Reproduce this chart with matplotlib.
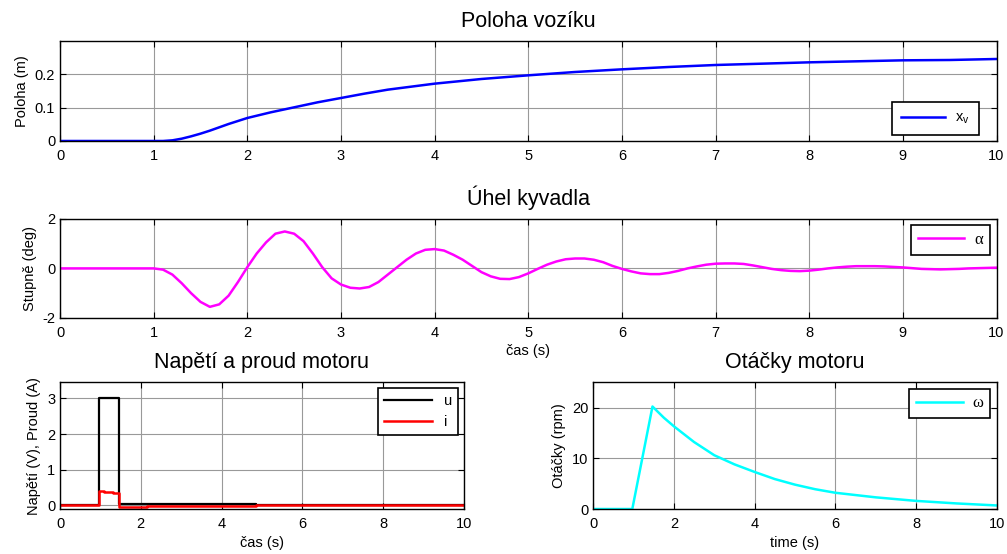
import numpy as np
import matplotlib.pyplot as plt

plt.rcParams['font.family'] = ['Liberation Sans', 'DejaVu Sans']
plt.rcParams['axes.unicode_minus'] = False

# poloha voziku (m)
t_x = [0, 1.0, 1.1, 1.2, 1.3, 1.4, 1.5, 1.6, 1.8, 2.0, 2.25, 2.5, 2.75, 3.0, 3.25, 3.5, 3.75,
       4.0, 4.5, 5.0, 5.5, 6.0, 6.5, 7.0, 7.5, 8.0, 8.5, 9.0, 9.5, 10.0]
x_v = [0, 0, 0.0, 0.002, 0.007, 0.014, 0.022, 0.031, 0.051, 0.069, 0.086, 0.101, 0.116, 0.129,
       0.142, 0.154, 0.163, 0.172, 0.186, 0.197, 0.207, 0.215, 0.222, 0.228, 0.232, 0.236,
       0.239, 0.242, 0.243, 0.246]

# uhel kyvadla (deg), krok 0.1 s od t = 1 s
t_a = [0, 1.0, 1.1, 1.2, 1.3, 1.4, 1.5, 1.6, 1.7, 1.8, 1.9, 2.0, 2.1, 2.2, 2.3, 2.4, 2.5, 2.6,
       2.7, 2.8, 2.9, 3.0, 3.1, 3.2, 3.3, 3.4, 3.5, 3.6, 3.7, 3.8, 3.9, 4.0, 4.1, 4.2, 4.3,
       4.4, 4.5, 4.6, 4.7, 4.8, 4.9, 5.0, 5.1, 5.2, 5.3, 5.4, 5.5, 5.6, 5.7, 5.8, 5.9, 6.0,
       6.1, 6.2, 6.3, 6.4, 6.5, 6.6, 6.7, 6.8, 6.9, 7.0, 7.1, 7.2, 7.3, 7.4, 7.5, 7.6, 7.7,
       7.8, 7.9, 8.0, 8.1, 8.2, 8.3, 8.4, 8.5, 8.6, 8.7, 8.8, 8.9, 9.0, 9.1, 9.2, 9.3, 9.4,
       9.5, 9.6, 9.7, 9.8, 9.9, 10.0]
alpha = [0, 0, -0.05, -0.25, -0.6, -1.0, -1.35, -1.55, -1.45, -1.1, -0.55, 0.05, 0.6, 1.05,
         1.4, 1.49, 1.4, 1.1, 0.6, 0.05, -0.4, -0.65, -0.78, -0.81, -0.75, -0.55, -0.25, 0.05,
         0.35, 0.6, 0.75, 0.78, 0.72, 0.55, 0.35, 0.1, -0.15, -0.32, -0.42, -0.43, -0.35, -0.2,
         -0.02, 0.15, 0.28, 0.37, 0.40, 0.40, 0.35, 0.25, 0.1, -0.02, -0.12, -0.2, -0.23,
         -0.23, -0.18, -0.1, 0.0, 0.08, 0.15, 0.19, 0.2, 0.2, 0.18, 0.12, 0.05, -0.02, -0.07,
         -0.1, -0.11, -0.09, -0.05, 0.0, 0.04, 0.07, 0.09, 0.09, 0.09, 0.08, 0.06, 0.04, 0.01,
         -0.02, -0.03, -0.04, -0.03, -0.02, 0.0, 0.01, 0.02, 0.03]

# napeti a proud (schody)
t_u = [0, 0.97, 1.47, 4.85, 10]
u = [0, 3, 0.02, 0, 0]
t_i = [0, 0.97, 1.1, 1.3, 1.47, 2.15, 4.85, 10]
i_m = [0, 0.40, 0.38, 0.35, -0.06, -0.03, 0, 0]

# otacky motoru (rpm)
t_w = [0, 0.97, 1.47, 1.75, 2.0, 2.5, 3.0, 3.5, 4.0, 4.5, 5.0, 5.5, 6.0, 7.0, 8.0, 9.0, 10.0]
omega = [0, 0, 20.2, 18.0, 16.3, 13.2, 10.6, 8.8, 7.3, 5.9, 4.8, 3.9, 3.2, 2.3, 1.6, 1.1, 0.7]


def style(ax, xt, yt, xl, yl):
    ax.set_xlim(xl)
    ax.set_ylim(yl)
    ax.set_xticks(xt)
    ax.set_yticks(yt)
    ax.grid(True, color='#999999', lw=0.8)
    ax.tick_params(direction='in', top=True, right=True, labelsize=10.5, length=4)
    ax.tick_params(axis='x', pad=6)
    for s in ax.spines.values():
        s.set_linewidth(1.0)


def leg(ax, loc, greek=False, hl=3.3, **kw):
    prop = {'size': 10.5}
    if greek:
        prop = {'size': 12, 'family': 'Liberation Serif'}
    lg = ax.legend(loc=loc, fancybox=False, framealpha=1, edgecolor='black',
                   prop=prop, handlelength=hl, borderaxespad=0.4, **kw)
    lg.get_frame().set_linewidth(1.2)


fig = plt.figure(figsize=(10.07, 5.54), dpi=100)

ax1 = fig.add_axes([0.0596, 0.7455, 0.930, 0.1805])
ax1.plot(t_x, x_v, color='blue', lw=1.8, label='x$_\\mathregular{v}$')
style(ax1, range(11), [0, 0.1, 0.2], (0, 10), (0, 0.3))
ax1.set_yticklabels(['0', '0.1', '0.2'])
ax1.set_title('Poloha vozíku', fontsize=15.5, pad=10)
ax1.set_ylabel('Poloha (m)', fontsize=10.5)
leg(ax1, 'lower right', hl=3.0, bbox_to_anchor=(0.987, 0.0), borderpad=0.6,
    handletextpad=0.7)

ax2 = fig.add_axes([0.0596, 0.426, 0.930, 0.179])
ax2.plot(t_a, alpha, color='magenta', lw=1.8, label='α')
style(ax2, range(11), [-2, 0, 2], (0, 10), (-2, 2))
ax2.set_title('Úhel kyvadla', fontsize=15.5, pad=10)
ax2.set_ylabel('Stupně (deg)', fontsize=10.5)
ax2.set_xlabel('čas (s)', fontsize=10.5, labelpad=3)
leg(ax2, 'upper right', greek=True, hl=2.8, handletextpad=0.6)

ax3 = fig.add_axes([0.0596, 0.0812, 0.401, 0.229])
ax3.step(t_u, u, where='post', color='black', lw=1.6, label='u')
ax3.step(t_i, i_m, where='post', color='red', lw=1.8, label='i')
style(ax3, [0, 2, 4, 6, 8, 10], [0, 1, 2, 3], (0, 10), (-0.11, 3.46))
ax3.set_title('Napětí a proud motoru', fontsize=15.5, pad=10)
ax3.set_ylabel('Napětí (V), Proud (A)', fontsize=10.5)
ax3.set_xlabel('čas (s)', fontsize=10.5, labelpad=3)
leg(ax3, 'upper right')

ax4 = fig.add_axes([0.589, 0.0812, 0.401, 0.229])
ax4.plot(t_w, omega, color='cyan', lw=1.8, label='ω')
style(ax4, [0, 2, 4, 6, 8, 10], [0, 10, 20], (0, 10), (0, 25))
ax4.set_title('Otáčky motoru', fontsize=15.5, pad=10)
ax4.set_ylabel('Otáčky (rpm)', fontsize=10.5)
ax4.set_xlabel('time (s)', fontsize=10.5, labelpad=3)
leg(ax4, 'upper right', greek=True, hl=2.8, handletextpad=0.6)

fig.savefig('out.png', dpi=100)
